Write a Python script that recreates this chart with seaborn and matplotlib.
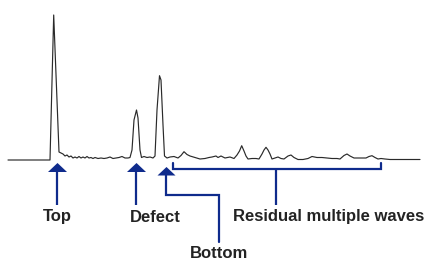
import seaborn as sns
import pandas as pd
import matplotlib.pyplot as plt

# Echo waveform (time in px units, amplitude above baseline)
time = [8, 50, 53.7, 59, 61, 63, 65, 67, 69, 71, 73, 75, 77, 79, 81, 83, 85, 87, 89, 91,
        93, 95, 98, 101, 104, 107, 110, 113, 116, 119, 122, 125, 128, 130, 132, 134, 136.5,
        138, 140, 141.5, 144, 147, 150, 153, 155, 157, 159.5, 161, 163, 164.5, 167, 170,
        174, 178, 181, 184, 187, 190, 195, 200, 205, 209, 212, 216, 218, 221, 225, 230,
        234, 237, 239.5, 241.7, 244, 246, 248, 252, 256, 259, 262, 264, 266, 268, 270, 272,
        275, 278, 281, 284, 288, 291, 294, 298, 303, 308, 312, 317, 322, 327, 332, 337,
        340, 344, 347, 350, 354, 360, 366, 369, 372, 375, 378, 381, 385, 390, 420]
amplitude = [0, 0, 145, 8, 7, 6, 4, 5, 3, 4, 2, 3, 2, 3.5, 2, 3, 2, 3.5, 2, 2.5,
             1.5, 2.5, 1.5, 2, 1.5, 2, 3, 1.5, 2, 2.5, 3.5, 2, 2, 2.5, 10, 40, 50,
             42, 10, 2.5, 3.5, 2.5, 3, 2, 4, 50, 84.3, 80, 35, 4, 2, 3,
             3.5, 2, 4.5, 8.3, 5.5, 4, 2.5, 1, 1.5, 2.5, 3, 4, 2.5, 4, 2, 3,
             1.5, 5, 9, 14.3, 9, 4, 1, 1.5, 1.5, 1, 6, 10, 12.7, 10, 6, 1,
             2, 3, 1.5, 1, 4, 5, 2.5, 0.5, 0.5, 1.5, 3.5, 2.5, 2.5, 2, 1.5, 1.5,
             1, 4.5, 6, 4, 2, 2, 2, 3.5, 4.3, 2.5, 1, 1.5, 1, 0.5, 0.5]

labels = ["Top", "Defect", "Residual multiple waves", "Bottom"]

df = pd.DataFrame({"time": time, "amplitude": amplitude})

sns.set_style("white")
plt.rcParams['font.family'] = ['Liberation Sans', 'DejaVu Sans']

fig = plt.figure(figsize=(4.27, 2.59), dpi=100)
ax = fig.add_axes([0, 0, 1, 1])

sns.lineplot(data=df, x="time", y="amplitude", color="#2a2a2a", linewidth=0.85, ax=ax)

ax.set_xlim(0, 427)
ax.set_ylim(-99, 160)
ax.set_axis_off()

blue = "#0f2b8c"
txt = "#232323"


# y given as pixel-from-top, converted to amplitude units
def py(y):
    return 160 - y


def arrow_head(x, tip_y, w=9.5, h=9):
    ax.fill([x - w, x, x + w], [py(tip_y + h), py(tip_y), py(tip_y + h)],
            color=blue, lw=0, zorder=3)


# Top
arrow_head(57.5, 163)
ax.plot([57.5, 57.5], [py(170), py(205)], color=blue, lw=1.6, solid_capstyle="butt")
# Defect
arrow_head(136.5, 163)
ax.plot([136.5, 136.5], [py(170), py(205)], color=blue, lw=1.6, solid_capstyle="butt")
# Bottom
arrow_head(166.5, 167, w=9, h=8.5)
ax.plot([166.5, 166.5, 219, 219], [py(174), py(195), py(195), py(242)],
        color=blue, lw=1.6, solid_joinstyle="miter")
# Residual bracket
ax.plot([173.5, 173.5, 381, 381], [py(163), py(169), py(169), py(163)],
        color=blue, lw=1.6, solid_joinstyle="miter")
ax.plot([276, 276], [py(169), py(205)], color=blue, lw=1.6, solid_capstyle="butt")

fs = 12
ax.text(57, py(217), labels[0], ha="center", va="center", fontsize=fs, fontweight="bold", color=txt)
ax.text(155, py(217), labels[1], ha="center", va="center", fontsize=fs, fontweight="bold", color=txt)
ax.text(328.5, py(217), labels[2], ha="center", va="center", fontsize=fs, fontweight="bold", color=txt)
ax.text(219.5, py(253), labels[3], ha="center", va="center", fontsize=fs, fontweight="bold", color=txt)

plt.savefig("out.png", dpi=100)
